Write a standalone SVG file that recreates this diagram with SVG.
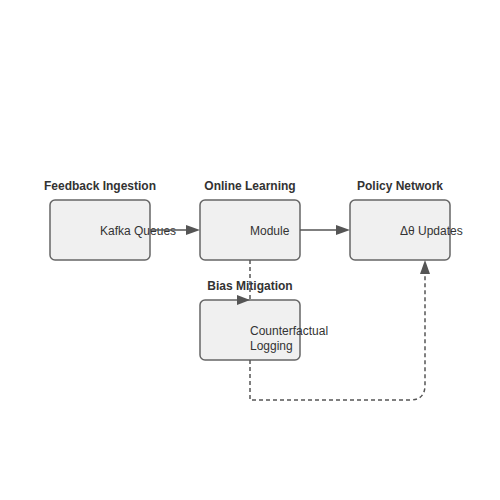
<svg xmlns="http://www.w3.org/2000/svg" width="500" height="500" viewBox="0 0 500 500">
<style>
.box{fill:#f0f0f0;stroke:#666;stroke-width:1.5}
.title{font-family:"Liberation Sans",Arial,sans-serif;font-size:12px;font-weight:bold;fill:#333;text-anchor:middle}
.lbl{font-family:"Liberation Sans",Arial,sans-serif;font-size:12px;fill:#333}
.edge{fill:none;stroke:#555;stroke-width:1.5}
.dash{stroke-dasharray:4,3}
.head{fill:#555}
</style>
<defs>
<marker id="arr" viewBox="0 0 10 10" refX="10" refY="5" markerWidth="9.5" markerHeight="7" markerUnits="userSpaceOnUse" orient="auto" preserveAspectRatio="none">
<path d="M0,0 L10,5 L0,10 z" class="head"/>
</marker>
</defs>
<g id="node-feedback">
<rect class="box" x="50" y="200" width="100" height="60" rx="5"/>
<text class="title" x="100" y="190">Feedback Ingestion</text>
<text class="lbl" x="100" y="235">Kafka Queues</text>
</g>
<g id="node-online">
<rect class="box" x="200" y="200" width="100" height="60" rx="5"/>
<text class="title" x="250" y="190">Online Learning</text>
<text class="lbl" x="250" y="235">Module</text>
</g>
<g id="node-policy">
<rect class="box" x="350" y="200" width="100" height="60" rx="5"/>
<text class="title" x="400" y="190">Policy Network</text>
<text class="lbl" x="400" y="235">Δθ Updates</text>
</g>
<g id="node-bias">
<rect class="box" x="200" y="300" width="100" height="60" rx="5"/>
<text class="title" x="250" y="290">Bias Mitigation</text>
<text class="lbl" x="250" y="335">Counterfactual</text>
<text class="lbl" x="250" y="350">Logging</text>
</g>
<g id="connectors">
<path class="edge" d="M150,230 L186,230"/>
<polygon class="head" points="186,225 200,230 186,235"/>
<path class="edge" d="M300,230 L336,230"/>
<polygon class="head" points="336,225 350,230 336,235"/>
<path class="edge dash" d="M250,260 L250,300"/>
<polygon class="head" points="237,295 250,300 237,305"/>
<path class="edge dash" d="M250,360 L250,400 L410,400 Q425,400 425,385 L425,274"/>
<polygon class="head" points="420,274 425,260 430,274"/>
</g>
</svg>
